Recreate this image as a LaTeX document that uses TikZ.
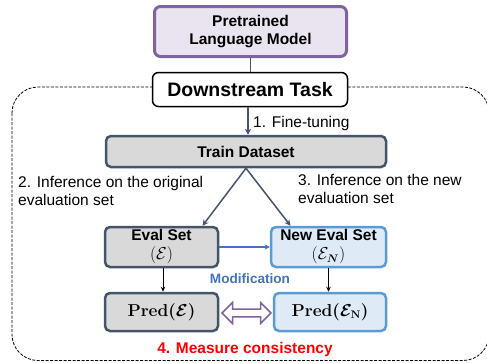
\documentclass[tikz,border=0pt]{standalone}
\usepackage{bm}
\usepackage{fontspec}
\setmainfont{Liberation Sans}
\usetikzlibrary{shapes.arrows,arrows.meta,calc}
\definecolor{slate}{HTML}{44546A}
\definecolor{purp}{HTML}{8064A2}
\definecolor{purpfill}{HTML}{EAE4F0}
\definecolor{grayfill}{HTML}{D9D9D9}
\definecolor{blueb}{HTML}{5B9BD5}
\definecolor{bluefill}{HTML}{DEEBF7}
\definecolor{modblue}{HTML}{4472C4}
\tikzset{
  txt/.style={font=\fontsize{15.5}{18}\selectfont, inner sep=0pt},
  btxt/.style={font=\fontsize{15.5}{18}\selectfont\bfseries},
  box/.style={rectangle, rounded corners=5pt, align=center, inner sep=0pt, btxt},
  graybox/.style={box, draw=slate, line width=2.5pt, fill=grayfill},
  bluebox/.style={box, draw=blueb, line width=2.5pt, fill=bluefill},
  conn/.style={draw=slate, line width=1.5pt, -{Stealth[length=6pt,width=6pt]}},
  blk/.style={draw=black, line width=1pt, -{Stealth[length=5pt,width=4.5pt]}},
}
\begin{document}
\begin{tikzpicture}[x=1pt,y=-1pt]
\useasboundingbox (0,0) rectangle (487,362);
% dashed region
\draw[dashed, dash pattern=on 3pt off 1.5pt, line width=0.8pt, rounded corners=26pt] (12,87) rectangle (489,360.5);

\node[box, draw=purp, line width=3pt, fill=purpfill, rounded corners=6pt,
      minimum width=192pt, minimum height=50pt] (plm) at (250.5,31.5) {Pretrained\\Language Model};
\node[box, draw=black, line width=1.5pt, fill=white, rounded corners=6pt,
      minimum width=195pt, minimum height=34pt, font=\fontsize{19.5}{22}\selectfont\bfseries] (ds) at (250,89.5) {Downstream Task};
\draw[slate, line width=1.5pt] (plm.south) -- (plm.south |- ds.north);

\node[graybox, minimum width=280pt, minimum height=31pt] (train) at (246,151.5) {Train Dataset};
\draw[conn] (248,107) coordinate (ftstart) -- (ftstart |- train.north);
\node[txt, anchor=west] (ft) at (253,123) {1. Fine-tuning};

\node[graybox, minimum width=113pt, minimum height=40pt] (eval) at (161.5,247) {Eval Set\\[1pt]\mdseries\fontsize{16}{16}\selectfont$(\mathcal{E})$};
\node[bluebox, minimum width=115pt, minimum height=40pt] (neval) at (328.5,247) {New Eval Set\\[1pt]\mdseries\fontsize{16}{16}\selectfont$(\mathcal{E}_{\bm{N}})$};

\draw[conn] (train.south) -- ($(eval.north)+(41,0)$);
\draw[conn] (train.south) -- ($(neval.north)+(-38,0)$);

\node[txt, anchor=north west, align=left] (inf2) at (18,176) {2. Inference on the original\\evaluation set};
\node[txt, anchor=north west, align=left] (inf3) at (298,174) {3. Inference on the new\\evaluation set};

\draw[draw=modblue, line width=1.2pt, -{Stealth[length=5pt,width=5pt]}] (eval.east) -- (neval.west);
\node[txt, text=modblue, font=\fontsize{13.6}{16}\selectfont\bfseries] (mod) at (250,279) {Modification};

\node[graybox, minimum width=113pt, minimum height=38pt, font=\fontsize{16}{16}\selectfont\boldmath] (pred) at (161.5,312) {$\mathbf{Pred}(\mathcal{E})$};
\node[bluebox, minimum width=112pt, minimum height=38pt, font=\fontsize{16}{16}\selectfont\boldmath] (predn) at (330,312) {$\mathbf{Pred}(\mathcal{E}_{\mathbf{N}})$};

\draw[blk] (163,268) coordinate (e1) -- (e1 |- pred.north);
\draw[blk] (neval.south) -- (neval.south |- predn.north);

\node[double arrow, draw=purp, fill=white, line width=1.5pt, minimum height=49pt, minimum width=21pt,
      inner sep=3pt, double arrow head extend=6.5pt] (cons) at (246.5,313) {};

\node[txt, text=red, font=\fontsize{15.5}{18}\selectfont\bfseries] (meas) at (245,349) {4. Measure consistency};
\end{tikzpicture}
\end{document}
